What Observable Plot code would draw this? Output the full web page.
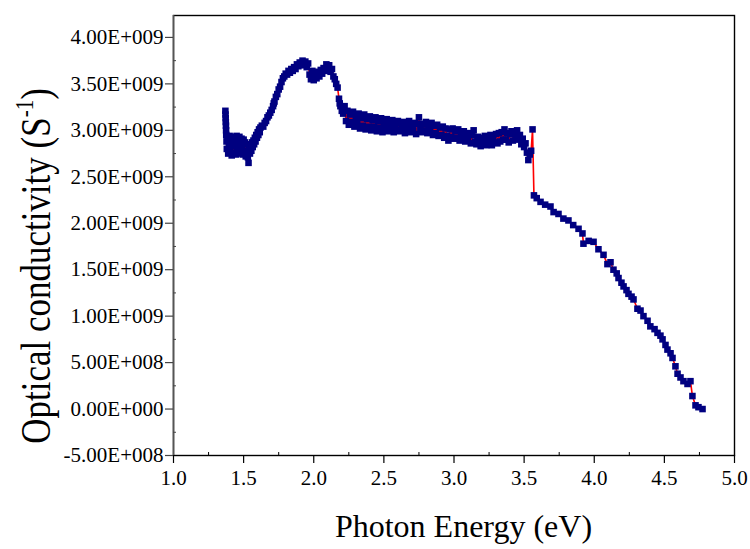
<!DOCTYPE html>
<html><head><meta charset="utf-8">
<script src="https://cdn.jsdelivr.net/npm/d3@7"></script>
<script src="https://cdn.jsdelivr.net/npm/@observablehq/plot@0.6"></script>
<style>html,body{margin:0;padding:0;background:#fff} svg{display:block}</style>
</head><body><div id="chart"></div>
<script>
// Photon energy (eV)
const energy = [
1.370,1.371,1.372,1.373,1.374,1.375,1.376,1.378,
1.380,1.385,1.390,1.395,1.400,1.405,1.410,1.415,1.420,1.425,
1.430,1.435,1.440,1.445,1.450,1.455,1.460,1.465,1.470,1.475,
1.480,1.485,1.490,1.495,1.500,1.505,1.510,1.515,1.520,1.525,
1.530,1.535,1.540,1.545,1.550,1.555,1.560,1.565,1.570,1.575,
1.580,1.585,1.590,1.595,1.600,1.605,1.610,1.615,1.620,
1.630,1.640,1.650,1.660,1.670,1.680,1.690,1.700,1.710,1.715,
1.720,1.730,1.740,1.750,1.760,1.770,1.780,1.790,1.800,1.810,
1.820,1.830,1.840,1.850,1.860,1.870,1.880,1.890,1.900,1.910,
1.920,1.930,1.940,1.950,1.960,1.970,1.980,1.990,2.000,2.010,
2.020,2.030,2.040,2.050,2.060,2.070,2.080,2.090,2.100,2.110,
2.120,2.130,2.140,2.150,2.160,2.170,2.180,2.185,2.190,2.200,
2.21,2.22,2.23,2.24,2.25,2.26,2.27,2.28,2.29,2.30,
2.31,2.32,2.33,2.34,2.35,2.36,2.37,2.38,2.39,2.40,
2.41,2.42,2.43,2.44,2.45,2.46,2.47,2.48,2.49,2.50,
2.51,2.52,2.53,2.54,2.55,2.56,2.57,2.58,2.59,2.60,
2.61,2.62,2.63,2.64,2.65,2.66,2.67,2.68,2.69,2.70,
2.71,2.72,2.73,2.74,2.75,2.76,2.77,2.78,2.79,2.80,
2.81,2.82,2.83,2.84,2.85,2.86,2.87,2.88,2.89,2.90,
2.91,2.92,2.93,2.94,2.95,2.96,2.97,2.98,2.99,3.00,
3.01,3.02,3.03,3.04,3.05,3.06,3.07,3.08,3.09,3.10,
3.11,3.12,3.13,3.14,3.15,3.16,3.17,3.18,3.19,3.20,
3.21,3.22,3.23,3.24,3.25,3.26,3.27,3.28,3.29,3.30,
3.31,3.32,3.33,3.34,3.35,3.36,3.37,3.38,3.39,3.40,
3.41,3.42,3.43,3.44,3.45,3.46,3.47,3.48,3.49,3.50,
3.51,3.52,3.53,3.54,3.55,3.56,3.57,
3.590,3.617,3.650,3.688,3.710,3.745,3.780,3.816,3.850,3.888,
3.916,3.923,3.960,3.995,4.030,4.066,4.094,4.116,4.137,4.160,
4.173,4.194,4.209,4.230,4.244,4.266,4.280,4.308,4.330,4.351,
4.380,4.400,4.430,4.451,4.472,4.487,4.508,4.522,4.544,4.558,
4.579,4.594,4.615,4.636,4.665,4.686,4.700,4.722,4.743,4.772
];
// Optical conductivity (x 1E+009 S^-1)
const sigma = [
3.21,3.17,3.13,3.09,3.05,3.00,2.95,2.88,
2.80,2.93,2.75,2.86,2.94,2.77,2.90,2.73,2.93,2.83,
2.76,2.92,2.85,2.74,2.94,2.80,2.89,2.75,2.93,2.84,
2.77,2.91,2.82,2.74,2.90,2.78,2.87,2.72,2.85,2.77,
2.71,2.65,2.81,2.75,2.84,2.78,2.87,2.82,2.89,2.85,
2.92,2.88,2.95,2.92,2.98,2.95,3.01,2.98,3.03,
3.05,3.04,3.08,3.10,3.14,3.16,3.19,3.22,3.26,3.29,
3.31,3.36,3.39,3.44,3.47,3.52,3.56,3.58,3.61,3.60,
3.64,3.62,3.66,3.64,3.68,3.66,3.71,3.69,3.73,3.70,
3.75,3.72,3.74,3.68,3.72,3.60,3.55,3.64,3.54,3.61,
3.56,3.63,3.58,3.65,3.61,3.67,3.64,3.71,3.68,3.70,
3.63,3.66,3.58,3.55,3.50,3.46,3.34,3.29,3.26,3.21,
3.18,3.26,3.10,3.21,3.06,3.17,3.09,3.20,3.04,3.14,
3.08,3.18,3.02,3.13,3.05,3.17,3.01,3.12,3.04,3.15,
3.00,3.11,3.04,3.14,2.99,3.10,3.03,3.13,2.98,3.09,
3.03,3.12,2.99,3.08,3.02,3.11,2.98,3.07,3.01,3.10,
2.99,3.08,3.02,3.09,2.97,3.07,3.01,3.10,2.98,3.06,
3.00,3.08,2.96,3.07,3.14,3.01,2.98,3.07,3.00,3.09,
2.97,3.06,2.99,3.08,2.95,3.05,2.97,3.06,2.94,3.03,
2.95,3.04,2.92,3.02,2.94,2.89,3.01,2.93,3.02,2.91,
2.99,2.92,3.01,2.89,2.97,2.91,2.99,2.88,2.96,2.90,
2.97,2.86,2.95,3.00,2.88,2.85,2.93,2.87,2.83,2.92,
2.85,2.94,2.84,2.92,2.86,2.95,2.84,2.93,2.87,2.96,
2.86,2.97,2.88,2.98,2.90,3.01,2.90,2.97,2.87,2.96,
2.99,2.89,2.98,2.92,3.00,2.90,2.95,2.85,2.91,2.82,
2.86,2.76,2.68,2.74,2.78,3.01,2.30,
2.27,2.23,2.20,2.18,2.12,2.10,2.05,2.03,1.98,1.94,
1.89,1.78,1.81,1.80,1.72,1.66,1.56,1.58,1.50,1.46,
1.41,1.36,1.32,1.28,1.24,1.21,1.18,1.08,1.06,1.00,
0.95,0.89,0.86,0.82,0.79,0.75,0.69,0.64,0.60,0.55,
0.46,0.38,0.34,0.30,0.27,0.30,0.14,0.04,0.02,0.00
];
const xTicks = [1.0,1.5,2.0,2.5,3.0,3.5,4.0,4.5,5.0];
const xMinor = [1.25,1.75,2.25,2.75,3.25,3.75,4.25,4.75];
const yTicks = [-0.5,0,0.5,1.0,1.5,2.0,2.5,3.0,3.5,4.0];
const yMinor = [-0.25,0.25,0.75,1.25,1.75,2.25,2.75,3.25,3.75];
const xDomain = [1.0, 5.0];
const yDomain = [-0.5, 4.236];
const xTitle = "Photon Energy (eV)";
const yTitle = "Optical conductivity (S";
const yTitleSup = "-1";

const data = energy.map((e, i) => ({e, s: sigma[i]}));

const sci = d => {
  const v = Math.round(d * 1e9);
  if (v === 0) return "0.00E+000";
  const ex = Math.floor(Math.log10(Math.abs(v)) + 1e-9);
  const m = v / Math.pow(10, ex);
  return m.toFixed(2) + "E+" + String(ex).padStart(3, "0");
};

const serif = "Liberation Serif, Times New Roman, serif";
const W = 750, H = 549, mL = 173, mR = 16, mT = 15, mB = 94;
const chart = Plot.plot({
  width: W, height: H,
  marginLeft: mL, marginRight: mR, marginTop: mT, marginBottom: mB,
  style: {fontFamily: serif, fontSize: "21px", background: "#fff", color: "#000"},
  x: {domain: xDomain},
  y: {domain: yDomain},
  marks: [
    Plot.line(data, {x: "e", y: "s", stroke: "#ff0000", strokeWidth: 1.6}),
    Plot.dot(data, {x: "e", y: "s", symbol: "square", r: 3.7, fill: "#000080", stroke: null}),
    Plot.frame({stroke: "#000", strokeWidth: 1.4}),
    Plot.ruleX([xDomain[0]], {stroke: "#555", strokeWidth: 1.6}),
    Plot.axisX(xTicks, {tickSize: 8, tickPadding: 7, tickFormat: d3.format(".1f"), label: null, fontSize: 21, strokeWidth: 1.2}),
    Plot.axisX(xMinor, {tickSize: -3, tickFormat: () => "", label: null, strokeWidth: 1}),
    Plot.axisY(yTicks, {tickSize: 8, tickPadding: 2, tickFormat: sci, label: null, fontSize: 21, stroke: "#444", strokeWidth: 1.2}),
    Plot.axisY(yMinor, {tickSize: -3, tickFormat: () => "", label: null, stroke: "#444", strokeWidth: 1})
  ]
});
document.getElementById("chart").append(chart);

const svg = d3.select(chart);
svg.attr("font-family", serif).style("font-family", serif);
svg.selectAll("g, text").attr("font-family", serif).style("font-family", serif).attr("font-variant", null).style("font-variant", "normal");

const plotCx = mL + (W - mL - mR) / 2;
svg.append("text")
  .attr("x", plotCx + 10).attr("y", H - 12)
  .attr("text-anchor", "middle")
  .attr("font-family", serif)
  .attr("font-size", 32)
  .attr("fill", "#000")
  .text(xTitle);

const yt = svg.append("text")
  .attr("transform", `translate(50, ${mT + (H - mT - mB) / 2 + 31}) rotate(-90) scale(1, 1.2)`)
  .attr("text-anchor", "middle")
  .attr("font-family", serif)
  .attr("font-size", 35)
  .attr("fill", "#000");
yt.append("tspan").text(yTitle);
yt.append("tspan").attr("dy", -14).attr("font-size", 21).text(yTitleSup);
yt.append("tspan").attr("dy", 14).text(")");
</script>
</body></html>
